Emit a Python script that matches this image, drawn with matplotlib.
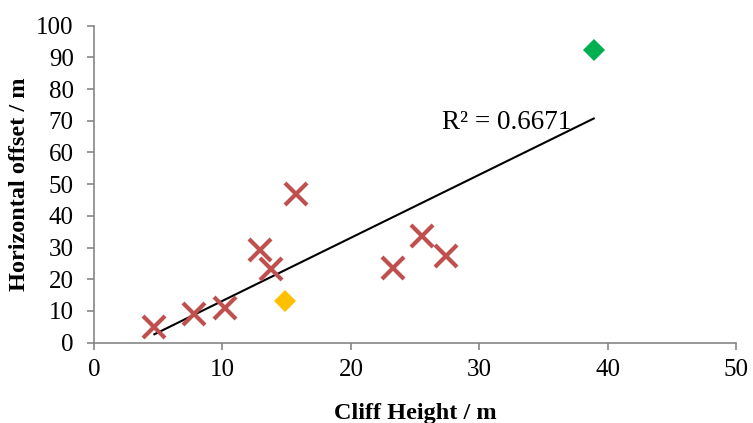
import numpy as np
import matplotlib
matplotlib.use("Agg")
import matplotlib.pyplot as plt

# cliff height (m) vs horizontal offset (m)
cliff_height = [4.7, 7.8, 10.2, 12.9, 13.8, 15.7, 23.3, 25.5, 27.4]
offset       = [5.0, 9.0, 11.0, 29.2, 23.2, 46.9, 23.6, 33.7, 27.3]

# highlighted sites
yellow_x, yellow_y = [14.9], [13.2]
green_x, green_y   = [38.9], [92.4]

r2_label = "R² = 0.6671"

plt.rcParams["font.family"] = ["Liberation Serif", "DejaVu Serif"]

fig = plt.figure(figsize=(7.53, 4.23), dpi=100)
ax = fig.add_axes([0.1248, 0.19, 0.8532, 0.7492])

ax.plot(cliff_height, offset, "x", color="#C0504D", markersize=16,
        markeredgewidth=3, zorder=3)
ax.plot(yellow_x, yellow_y, "D", color="#FFC000", markersize=11,
        markeredgewidth=0, zorder=3)
ax.plot(green_x, green_y, "D", color="#00B050", markersize=11,
        markeredgewidth=0, zorder=3)

# linear trendline through every point
all_x = np.array(cliff_height + yellow_x + green_x)
all_y = np.array(offset + yellow_y + green_y)
slope, intercept = np.polyfit(all_x, all_y, 1)
fx = np.array([all_x.min(), all_x.max()])
ax.plot(fx, slope * fx + intercept, color="black", linewidth=1.5, zorder=2)
ax.text(27.06, 67.3, r2_label, fontsize=19.5, va="baseline", ha="left")

ax.set_xlim(0, 50)
ax.set_ylim(0, 100)
ax.set_xticks(np.arange(0, 51, 10))
ax.set_yticks(np.arange(0, 101, 10))
ax.tick_params(labelsize=18, length=5, width=1.2, color="#868686")
ax.tick_params(axis="x", pad=7)
ax.tick_params(axis="y", pad=9.5)
for side in ["top", "right"]:
    ax.spines[side].set_visible(False)
for side in ["left", "bottom"]:
    ax.spines[side].set_color("#868686")
    ax.spines[side].set_linewidth(1.2)

fig.text(415 / 753, 1 - 419 / 423, "Cliff Height / m", fontsize=17.5,
         fontweight="bold", ha="center", va="baseline")
fig.text(19.5 / 753, 1 - 184 / 423, "Horizontal offset / m", fontsize=17.5,
         fontweight="bold", ha="center", va="center", rotation=90)

fig.savefig("out.png", dpi=100)
